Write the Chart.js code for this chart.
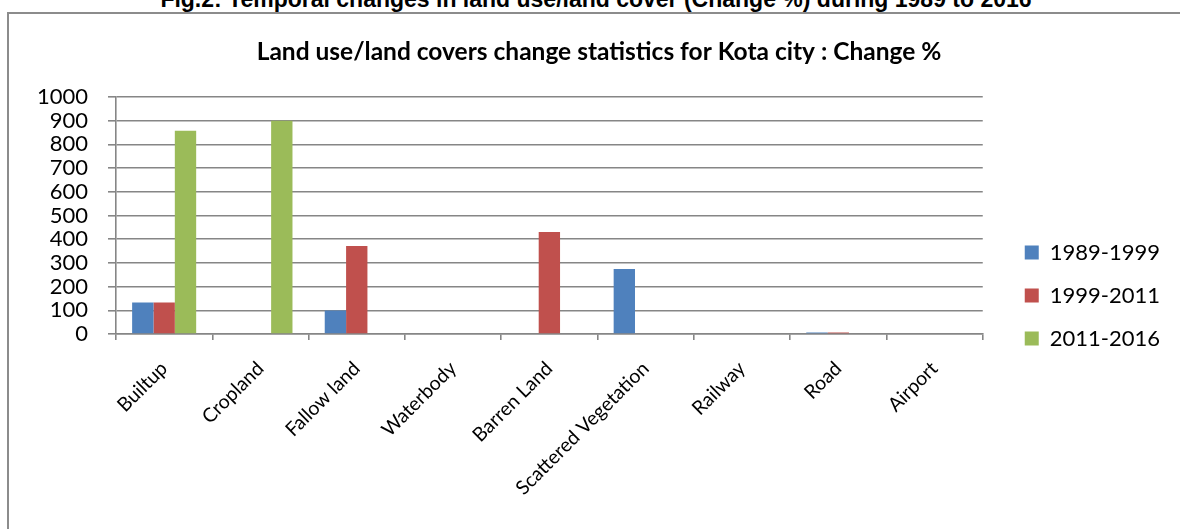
<!DOCTYPE html>
<html>
<head>
<meta charset="utf-8">
<title>Land use/land cover change</title>
<script src="https://cdn.jsdelivr.net/npm/chart.js@4.4.0/dist/chart.umd.min.js"></script>
<style>
  html, body { margin: 0; padding: 0; background: #fff; overflow: hidden; width: 1180px; height: 529px; }
  .figTitle { position: absolute; left: 0; top: -12px; width: 1192px; text-align: center;
    font: bold 23px "Liberation Sans", Arial, sans-serif; line-height: 23px; color: #000; white-space: nowrap; }
  .cadre { position: absolute; left: 7px; top: 12px; width: 1200px; height: 600px; border: 2px solid #8c8c8c; }
  #GraphiqueChangement { position: absolute; left: 0; top: 0; }
</style>
</head>
<body>
<div class="figTitle">Fig.2: Temporal changes in land use/land cover (Change %) during 1989 to 2016</div>
<div class="cadre"></div>
<canvas id="GraphiqueChangement" width="1180" height="529"></canvas>
<script>
var categories = ["Builtup", "Cropland", "Fallow land", "Waterbody", "Barren Land",
    "Scattered Vegetation", "Railway", "Road", "Airport"];
var periodes = ["1989-1999", "1999-2011", "2011-2016"];
var valeurs1989 = [133, 0, 99, 0, 0, 274, 0, 6, 0];
var valeurs1999 = [133, 0, 371, 0, 430, 0, 0, 6, 0];
var valeurs2011 = [858, 900, 0, 0, 0, 0, 0, 0, 0];
var couleurs = ["#4F81BD", "#C0504D", "#9BBB59"];
var maxY = 1000;
var pasY = 100;

var police = "Lato, 'Open Sans', sans-serif";
var gris = "#868686";

var ctx = document.getElementById('GraphiqueChangement').getContext('2d');

var grafique = new Chart(ctx, {
    type: 'bar',
    data: {
        labels: categories,
        datasets: [
            { label: periodes[0], backgroundColor: couleurs[0], data: valeurs1989 },
            { label: periodes[1], backgroundColor: couleurs[1], data: valeurs1999 },
            { label: periodes[2], backgroundColor: couleurs[2], data: valeurs2011 }
        ]
    },
    options: {
        responsive: false,
        animation: false,
        categoryPercentage: 0.665,
        barPercentage: 1.0,
        layout: { padding: { left: 28, right: 10, top: 62, bottom: 0 } },
        plugins: {
            tooltip: { enabled: false },
            title: {
                display: true,
                text: "Land use/land covers change statistics for Kota city : Change %",
                color: "#000",
                font: { family: police, size: 24.5, weight: 'bold', lineHeight: 1.2 },
                padding: { top: -25, bottom: 30.6 }
            },
            legend: {
                position: 'right',
                maxWidth: 176,
                labels: {
                    color: "#000",
                    font: { family: police, size: 22 },
                    boxWidth: 14,
                    boxHeight: 14,
                    padding: 21
                }
            }
        },
        scales: {
            x: {
                afterFit: function (s) { s.height = 195; },
                grid: { drawOnChartArea: false, drawTicks: true, tickLength: 6, color: gris, lineWidth: 1.6 },
                border: { display: true, color: gris, width: 1.6 },
                ticks: {
                    color: "#000",
                    font: { family: police, size: 19.5 },
                    minRotation: 45,
                    maxRotation: 45,
                    autoSkip: false,
                    padding: 17
                }
            },
            y: {
                min: 0,
                max: maxY,
                afterFit: function (s) { s.width = 88; },
                grid: { color: gris, lineWidth: 1.6, drawTicks: true, tickLength: 8 },
                border: { display: true, color: gris, width: 1.6 },
                ticks: {
                    color: "#000",
                    font: { family: police, size: 22 },
                    padding: 20,
                    stepSize: pasY,
                    autoSkip: false,
                    callback: function (v) { return String(v); }
                }
            },
            y2: {
                position: 'right',
                afterFit: function (s) { s.width = 21; },
                grid: { display: false },
                border: { display: false },
                ticks: { display: false }
            }
        }
    }
});
</script>
</body>
</html>
